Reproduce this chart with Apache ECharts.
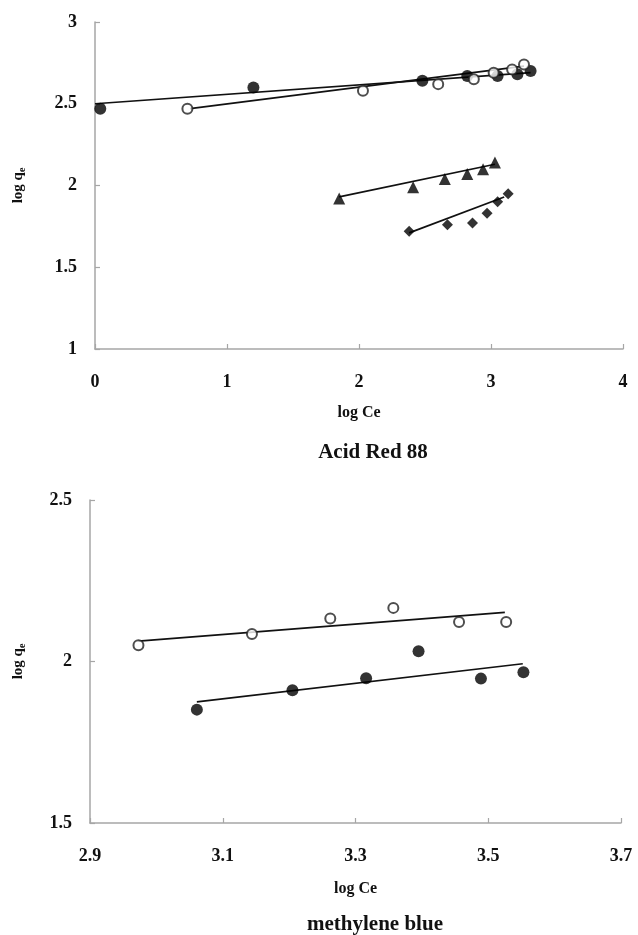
<!DOCTYPE html>
<html>
<head>
  <meta charset="UTF-8" />
  <title>log qe vs log Ce</title>
  <style>
    * { margin: 0; padding: 0; }
    html, body { background: #fff; }
    #chart { width: 638px; height: 935px; }
  </style>
</head>
<body>
  <div id="chart"></div>
  <script src="https://cdn.jsdelivr.net/npm/echarts@6/dist/echarts.min.js"></script>
  <script>
    // Acid Red 88 -- points are [log Ce, log qe]
    var arFilled   = [[0.04, 2.47], [1.20, 2.60], [2.48, 2.64], [2.82, 2.67], [3.05, 2.67], [3.20, 2.68], [3.30, 2.70]];
    var arOpen     = [[0.70, 2.47], [2.03, 2.58], [2.60, 2.62], [2.87, 2.65], [3.02, 2.69], [3.16, 2.71], [3.25, 2.74]];
    var arTriangle = [[1.85, 1.92], [2.41, 1.99], [2.65, 2.04], [2.82, 2.07], [2.94, 2.10], [3.03, 2.14]];
    var arDiamond  = [[2.38, 1.72], [2.67, 1.76], [2.86, 1.77], [2.97, 1.83], [3.05, 1.90], [3.13, 1.95]];
    // fitted lines (end points)
    var arFilledFit   = [[0, 2.50], [3.30, 2.69]];
    var arOpenFit     = [[0.72, 2.47], [3.25, 2.73]];
    var arTriangleFit = [[1.85, 1.93], [3.03, 2.13]];
    var arDiamondFit  = [[2.38, 1.71], [3.10, 1.93]];

    // methylene blue
    var mbOpen   = [[2.973, 2.05], [3.144, 2.085], [3.262, 2.133], [3.357, 2.166], [3.456, 2.122], [3.527, 2.122]];
    var mbFilled = [[3.061, 1.851], [3.205, 1.911], [3.316, 1.948], [3.395, 2.032], [3.489, 1.947], [3.553, 1.967]];
    var mbOpenFit   = [[2.973, 2.063], [3.525, 2.152]];
    var mbFilledFit = [[3.061, 1.875], [3.552, 1.993]];

    var font = 'Liberation Serif';
    var axisGray = '#a6a6a6';

    var chart = echarts.init(document.getElementById('chart'));

    function xAxisOf(idx, min, max, interval, gap) {
      return {
        type: 'value', gridIndex: idx, min: min, max: max, interval: interval,
        name: 'log Ce', nameLocation: 'middle', nameGap: gap,
        nameTextStyle: { fontFamily: font, fontWeight: 'bold', fontSize: 16, color: '#111' },
        axisLine: { lineStyle: { color: axisGray, width: 1.5 } },
        axisTick: { inside: true, length: 5, lineStyle: { color: axisGray, width: 1.2 } },
        axisLabel: {
          margin: 24, fontFamily: font, fontWeight: 'bold', fontSize: 18, color: '#111',
          formatter: function (v) { return interval < 1 ? v.toFixed(1) : String(Math.round(v)); }
        },
        splitLine: { show: false }
      };
    }
    function yAxisOf(idx, min, max, gap) {
      return {
        type: 'value', gridIndex: idx, min: min, max: max, interval: 0.5,
        name: '{a|log q}{s|e}', nameLocation: 'middle', nameGap: gap,
        nameTextStyle: {
          rich: {
            a: { fontFamily: font, fontWeight: 'bold', fontSize: 15, color: '#111', lineHeight: 17 },
            s: { fontFamily: font, fontWeight: 'bold', fontSize: 10, color: '#111', lineHeight: 17, verticalAlign: 'bottom', padding: [6, 0, 0, 0] }
          }
        },
        axisLine: { lineStyle: { color: axisGray, width: 1.5 } },
        axisTick: { inside: true, length: 5, lineStyle: { color: axisGray, width: 1.2 } },
        axisLabel: { margin: 18, fontFamily: font, fontWeight: 'bold', fontSize: 18, color: '#111' },
        splitLine: { show: false }
      };
    }

    function dots(data, ax, symbol, size, hollow) {
      return {
        type: 'scatter', xAxisIndex: ax, yAxisIndex: ax, data: data,
        symbol: symbol, symbolSize: size, z: 3,
        itemStyle: hollow
          ? { color: '#fff', borderColor: '#222', borderWidth: 2 }
          : { color: '#000' }
      };
    }
    function fit(data, ax) {
      return {
        type: 'line', xAxisIndex: ax, yAxisIndex: ax, data: data,
        symbol: 'none', z: 2,
        lineStyle: { color: '#111', width: 1.7 }
      };
    }

    chart.setOption({
      animation: false,
      title: [
        { text: 'Acid Red 88', left: 368, top: 437, textAlign: 'center',
          textStyle: { fontFamily: font, fontWeight: 'bold', fontSize: 21, color: '#111' } },
        { text: 'methylene blue', left: 370, top: 909, textAlign: 'center',
          textStyle: { fontFamily: font, fontWeight: 'bold', fontSize: 21, color: '#111' } }
      ],
      grid: [
        { left: 95, top: 22, width: 528, height: 327 },
        { left: 90, top: 500, width: 531, height: 323 }
      ],
      xAxis: [xAxisOf(0, 0, 4, 1, 56), xAxisOf(1, 2.9, 3.7, 0.2, 58)],
      yAxis: [yAxisOf(0, 1, 3, 68), yAxisOf(1, 1.5, 2.5, 63)],
      series: [
        fit(arFilledFit, 0), fit(arOpenFit, 0), fit(arTriangleFit, 0), fit(arDiamondFit, 0),
        dots(arFilled, 0, 'circle', 12, false),
        dots(arOpen, 0, 'circle', 10, true),
        dots(arTriangle, 0, 'triangle', 12, false),
        dots(arDiamond, 0, 'diamond', 11, false),
        fit(mbOpenFit, 1), fit(mbFilledFit, 1),
        dots(mbOpen, 1, 'circle', 10, true),
        dots(mbFilled, 1, 'circle', 12, false)
      ]
    });
  </script>
</body>
</html>
